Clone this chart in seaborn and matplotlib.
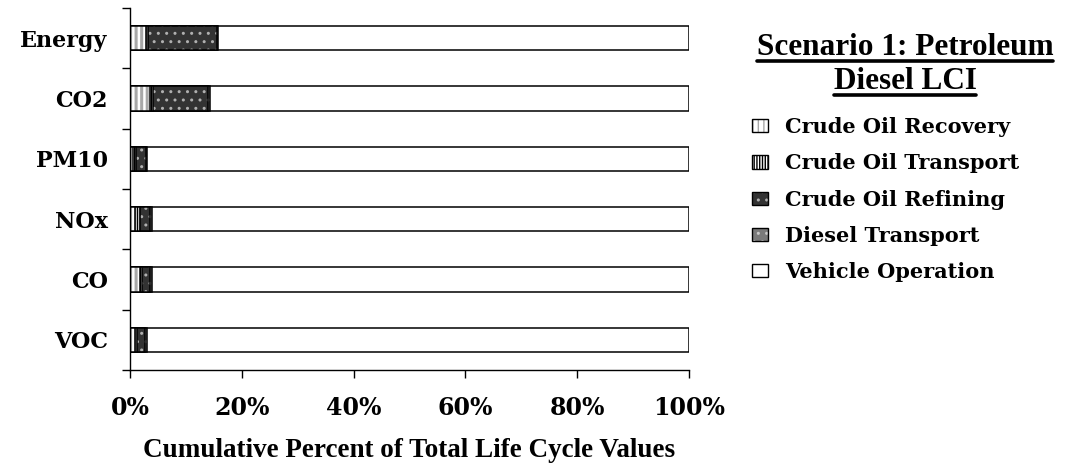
import numpy as np
import pandas as pd
import matplotlib.pyplot as plt
import seaborn as sns
from matplotlib.patches import Patch
from matplotlib.lines import Line2D
from matplotlib.legend_handler import HandlerTuple

# Values (percent of total life cycle value)
pollutants = ["Energy", "CO2", "PM10", "NOx", "CO", "VOC"]
crude_oil_recovery = [2.9, 3.6, 0.6, 0.9, 1.8, 0.9]
crude_oil_transport = [0.4, 0.5, 0.5, 0.8, 0.3, 0.4]
crude_oil_refining = [12.2, 9.8, 1.8, 1.8, 1.5, 1.4]
diesel_transport = [0.3, 0.5, 0.2, 0.4, 0.3, 0.3]
vehicle_operation = [84.2, 85.6, 96.9, 96.1, 96.1, 97.0]

stage_labels = ["Crude Oil Recovery", "Crude Oil Transport", "Crude Oil Refining",
                "Diesel Transport", "Vehicle Operation"]
tick_values = [0, 20, 40, 60, 80, 100]

# fill colour, hatch, hatch colour, hatch line width
stage_styles = [
    ("white", "|||", "#a8a8a8", 2.2),
    ("white", "||||||", "black", 1.1),
    ("#333333", "..", "#b0b0b0", 1.0),
    ("#7a7a7a", "..", "#c8c8c8", 1.0),
    ("white", None, "black", 1.0),
]

df = pd.DataFrame({
    "pollutant": pollutants,
    stage_labels[0]: crude_oil_recovery,
    stage_labels[1]: crude_oil_transport,
    stage_labels[2]: crude_oil_refining,
    stage_labels[3]: diesel_transport,
    stage_labels[4]: vehicle_operation,
})
cum = df[stage_labels].cumsum(axis=1)

sns.set_style("ticks")
plt.rcParams["font.family"] = ["DejaVu Serif"]
plt.rcParams["font.weight"] = "bold"
for k in ("text.color", "axes.labelcolor", "xtick.color", "ytick.color", "axes.edgecolor"):
    plt.rcParams[k] = "black"

fig = plt.figure(figsize=(10.66, 4.65), dpi=100)
ax = fig.add_axes([130 / 1066, 1 - 370 / 465, 559 / 1066, 362 / 465])


def style_new(patches, fc, ec, hatch, lw, hlw):
    for p in patches:
        p.set_facecolor(fc)
        p.set_edgecolor(ec)
        p.set_linewidth(lw)
        p.set_hatch(hatch)
        if hasattr(p, "set_hatch_linewidth"):
            p.set_hatch_linewidth(hlw)


# stacked bars: draw cumulative totals from the longest to the shortest
for label, (fc, hatch, hc, hlw) in reversed(list(zip(stage_labels, stage_styles))):
    for layer in ("fill", "outline"):
        n0 = len(ax.patches)
        sns.barplot(x=cum[label], y=df["pollutant"], order=pollutants, orient="h",
                    color="white", saturation=1, width=0.4, errorbar=None, ax=ax)
        new = ax.patches[n0:]
        if layer == "fill":
            style_new(new, fc, hc, hatch, 0, hlw)
        else:
            style_new(new, "none", "black", None, 1.1, hlw)

ax.set_xlim(0, 100)
ax.set_ylim(5.5, -0.5)
ax.set_xticks(tick_values)
ax.set_xticklabels([f"{v}%" for v in tick_values], fontsize=17, fontweight="bold")
ax.set_yticks(range(len(pollutants)))
ax.set_yticklabels(pollutants, fontsize=16, fontweight="bold")
ax.set_yticks(np.arange(-0.5, len(pollutants), 1), minor=True)
ax.tick_params(axis="y", which="major", length=0, pad=16)
ax.tick_params(axis="y", which="minor", length=6, width=1, direction="out", color="black")
ax.tick_params(axis="x", which="major", length=6, width=1, direction="out", pad=13, color="black")
ax.set_ylabel("")
ax.set_xlabel("Cumulative Percent of Total Life Cycle Values", fontsize=19.5,
              fontweight="bold", family="Liberation Serif", labelpad=13)
for s in ("top", "right"):
    ax.spines[s].set_visible(False)
for s in ("left", "bottom"):
    ax.spines[s].set_color("black")
    ax.spines[s].set_linewidth(1)

# legend
handles = []
for fc, hatch, hc, hlw in stage_styles:
    p1 = Patch(facecolor=fc, edgecolor=hc, hatch=hatch, linewidth=0)
    if hasattr(p1, "set_hatch_linewidth"):
        p1.set_hatch_linewidth(hlw)
    p2 = Patch(facecolor="none", edgecolor="black", linewidth=1)
    handles.append((p1, p2))
fig.legend(handles, stage_labels, handler_map={tuple: HandlerTuple(ndivide=1, pad=0)},
           loc="upper left", bbox_to_anchor=(752 / 1066, 1 - 117 / 465), frameon=False,
           prop={"family": "DejaVu Serif", "weight": "bold", "size": 15},
           handlelength=0.78, handleheight=0.6, handletextpad=0.8, labelspacing=0.78,
           borderpad=0, borderaxespad=0)

# underlined legend title
title_lines = ["Scenario 1: Petroleum", "Diesel LCI"]
title_baselines = [55, 89]
title_texts = []
for line, yb in zip(title_lines, title_baselines):
    t = fig.text(905 / 1066, 1 - yb / 465, line, ha="center", va="baseline",
                 fontsize=22.5, fontweight="bold", family="Liberation Serif")
    title_texts.append(t)

fig.canvas.draw()
renderer = fig.canvas.get_renderer()
inv = fig.transFigure.inverted()
for t, yb in zip(title_texts, title_baselines):
    bb = t.get_window_extent(renderer)
    (x0, _), (x1, _) = inv.transform([(bb.x0, 0), (bb.x1, 0)])
    yu = 1 - (yb + 6) / 465
    fig.add_artist(Line2D([x0, x1], [yu, yu], transform=fig.transFigure,
                          color="black", linewidth=2.6))

fig.savefig("out.png", dpi=100)
